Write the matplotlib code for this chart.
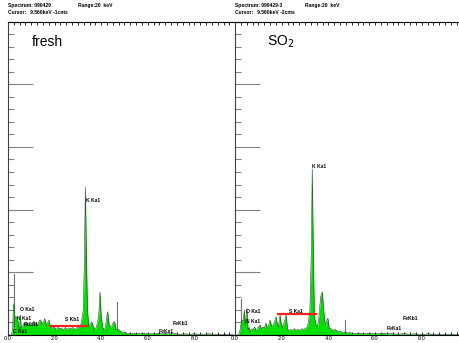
import matplotlib
matplotlib.use('Agg')
import matplotlib.pyplot as plt
from matplotlib.ticker import MultipleLocator

plt.rcParams['font.family'] = ['Liberation Sans', 'DejaVu Sans']

# energy (keV) and counts (arbitrary, 1 = one long tick)
fresh_e = [0.00, 0.15, 0.20, 0.23, 0.26, 0.29, 0.33, 0.37, 0.41, 0.45, 0.49, 0.53, 0.57,
           0.62, 0.68, 0.74, 0.80, 0.86, 0.92, 0.98, 1.04, 1.10, 1.16, 1.22, 1.28, 1.34,
           1.40, 1.46, 1.52, 1.58, 1.64, 1.70, 1.76, 1.82, 1.90, 1.98, 2.06, 2.14, 2.22,
           2.30, 2.38, 2.46, 2.54, 2.62, 2.70, 2.78, 2.86, 2.94, 3.02, 3.10, 3.17, 3.23,
           3.28, 3.32, 3.36, 3.41, 3.47, 3.53, 3.59, 3.65, 3.72, 3.78, 3.84, 3.90, 3.95,
           4.00, 4.06, 4.12, 4.18, 4.24, 4.28, 4.34, 4.40, 4.46, 4.52, 4.58, 4.64, 4.70,
           4.78, 4.86, 4.94, 5.02, 5.10, 5.25, 5.40, 5.55, 5.70, 5.85, 6.00, 6.15, 6.30,
           6.40, 6.50, 6.70, 6.90, 7.05, 7.20, 7.40, 7.60, 7.80, 8.00, 8.20, 8.40, 8.60,
           8.80, 9.00, 9.20, 9.40, 9.66]
fresh_c = [0.00, 0.00, 0.10, 0.45, 0.50, 0.13, 0.30, 0.28, 0.27, 0.15, 0.08, 0.32, 0.10,
           0.14, 0.19, 0.17, 0.21, 0.15, 0.16, 0.20, 0.14, 0.22, 0.18, 0.19, 0.15, 0.23,
           0.24, 0.17, 0.21, 0.26, 0.16, 0.20, 0.24, 0.13, 0.11, 0.13, 0.09, 0.12, 0.10,
           0.11, 0.08, 0.12, 0.09, 0.11, 0.10, 0.12, 0.09, 0.11, 0.13, 0.12, 0.25, 0.40,
           1.20, 2.36, 1.40, 0.40, 0.13, 0.18, 0.21, 0.15, 0.08, 0.12, 0.19, 0.35, 0.69,
           0.30, 0.13, 0.08, 0.12, 0.30, 0.37, 0.16, 0.12, 0.15, 0.20, 0.21, 0.08, 0.09,
           0.08, 0.05, 0.03, 0.05, 0.03, 0.02, 0.03, 0.02, 0.02, 0.03, 0.02, 0.02, 0.02,
           0.03, 0.02, 0.02, 0.02, 0.02, 0.02, 0.01, 0.02, 0.01, 0.02, 0.01, 0.01, 0.02,
           0.01, 0.01, 0.01, 0.01, 0.01]

so2_e = [0.00, 0.15, 0.22, 0.27, 0.31, 0.35, 0.40, 0.44, 0.47, 0.51, 0.56, 0.61, 0.66,
         0.72, 0.78, 0.84, 0.90, 0.96, 1.02, 1.08, 1.14, 1.20, 1.26, 1.32, 1.38, 1.44,
         1.50, 1.57, 1.64, 1.70, 1.76, 1.81, 1.86, 1.93, 1.98, 2.04, 2.11, 2.19, 2.25,
         2.30, 2.38, 2.46, 2.54, 2.62, 2.70, 2.78, 2.86, 2.94, 3.02, 3.10, 3.16, 3.21,
         3.27, 3.31, 3.35, 3.40, 3.46, 3.53, 3.60, 3.67, 3.74, 3.81, 3.88, 3.93, 3.98,
         4.04, 4.12, 4.20, 4.28, 4.36, 4.44, 4.52, 4.60, 4.70, 4.80, 4.90, 5.00, 5.15,
         5.30, 5.45, 5.60, 5.75, 5.90, 6.05, 6.20, 6.35, 6.45, 6.60, 6.80, 7.00, 7.15,
         7.30, 7.50, 7.70, 7.90, 8.10, 8.30, 8.50, 8.70, 8.90, 9.10, 9.30, 9.60]
so2_c = [0.00, 0.00, 0.08, 0.20, 0.24, 0.22, 0.40, 0.12, 0.30, 0.42, 0.08, 0.12, 0.05,
         0.10, 0.08, 0.13, 0.07, 0.10, 0.14, 0.16, 0.09, 0.13, 0.11, 0.19, 0.12, 0.15,
         0.24, 0.14, 0.16, 0.22, 0.29, 0.18, 0.13, 0.32, 0.18, 0.12, 0.20, 0.32, 0.10,
         0.07, 0.09, 0.07, 0.10, 0.08, 0.09, 0.07, 0.10, 0.09, 0.11, 0.12, 0.25, 0.40,
         1.30, 2.65, 1.50, 0.30, 0.18, 0.12, 0.30, 0.61, 0.69, 0.35, 0.13, 0.22, 0.27,
         0.10, 0.10, 0.07, 0.09, 0.07, 0.05, 0.06, 0.04, 0.05, 0.03, 0.04, 0.03, 0.02,
         0.03, 0.02, 0.02, 0.03, 0.02, 0.02, 0.02, 0.03, 0.02, 0.02, 0.02, 0.01, 0.02,
         0.02, 0.01, 0.02, 0.01, 0.01, 0.02, 0.01, 0.01, 0.01, 0.01, 0.01, 0.01]

fresh_marks = [(0.26, 0.98), (4.69, 0.52)]
so2_marks = [(0.27, 0.57), (4.72, 0.24)]

fresh_labels = [("C Ka1", 0.21, 0.06), ("N Ka1", 0.39, 0.27), ("O Ka1", 0.52, 0.40),
                ("FeLb1", 0.69, 0.16), ("S Kb1", 2.45, 0.25), ("K Ka1", 3.35, 2.15),
                ("FeKa1", 6.48, 0.05), ("FeKb1", 7.08, 0.18)]
so2_labels = [("N Ka1", 0.47, 0.21), ("O Ka1", 0.47, 0.38), ("S Ka1", 2.32, 0.38),
              ("K Ka1", 3.30, 2.69), ("FeKa1", 6.48, 0.10), ("FeKb1", 7.17, 0.27)]

fresh_red = (1.80, 3.39, 0.15)
so2_red = (1.85, 3.48, 0.34)

headers = [("Spectrum: 090429", "Cursor:   9.560keV -1cnts"),
           ("Spectrum: 090429-3", "Cursor:   9.560keV -2cnts")]

W, H = 459, 343
fig = plt.figure(figsize=(W / 100, H / 100), dpi=100)


def panel(x0, x1, xmax, e, c, marks, labels, red, title, head):
    ax = fig.add_axes([x0 / W, 8 / H, (x1 - x0) / W, 313.5 / H])
    for m in marks:
        ax.plot([m[0], m[0]], [0, m[1]], color='#707070', lw=0.8, zorder=1)
    ax.fill_between(e, c, color='#00e000', lw=0, zorder=2)
    ax.plot(e, c, color='#204020', lw=0.4, zorder=3)
    ax.plot([red[0], red[1]], [red[2], red[2]], color='#ff2020', lw=1.6, zorder=4)
    for t, x, y in labels:
        ax.text(x, y, t, fontsize=3.6, fontweight='bold', va='center', ha='left', zorder=5)
    ax.text(1.03 if title == 'fresh' else 1.37, 4.67, title, fontsize=10, va='center')
    ax.set_xlim(0, xmax)
    ax.set_ylim(0, 5)
    ax.yaxis.set_major_locator(MultipleLocator(1))
    ax.yaxis.set_minor_locator(MultipleLocator(0.2))
    ax.xaxis.set_major_locator(MultipleLocator(2))
    ax.xaxis.set_minor_locator(MultipleLocator(0.25))
    ax.set_yticklabels([])
    ax.tick_params(axis='y', which='major', direction='in', length=18, color='#808080', width=0.8)
    ax.tick_params(axis='y', which='minor', direction='in', length=4, color='#808080', width=0.8)
    ax.tick_params(axis='x', which='both', direction='in', top=True, length=2, width=0.6,
                   labelsize=4, pad=1)
    ax.set_xticks([0, 2, 4, 6, 8])
    ax.set_xticklabels(['0.0', '2.0', '4.0', '6.0', '8.0'])
    ax.spines['right'].set_visible(False)
    ax.spines['left'].set_color('#404040')
    for s in ax.spines.values():
        s.set_linewidth(0.8)
    fig.text(x0 / W, 1 - 5 / H, head[0], fontsize=3.6, fontweight='bold', va='center')
    fig.text((x0 + 70) / W, 1 - 5 / H, "Range:20  keV", fontsize=3.6, fontweight='bold', va='center')
    fig.text(x0 / W, 1 - 12 / H, head[1], fontsize=3.6, fontweight='bold', va='center')
    return ax


panel(8, 234, 9.7, fresh_e, fresh_c, fresh_marks, fresh_labels, fresh_red, 'fresh', headers[0])
panel(235, 459, 9.6, so2_e, so2_c, so2_marks, so2_labels, so2_red, 'SO$_2$', headers[1])

fig.savefig('out.png', dpi=100)
